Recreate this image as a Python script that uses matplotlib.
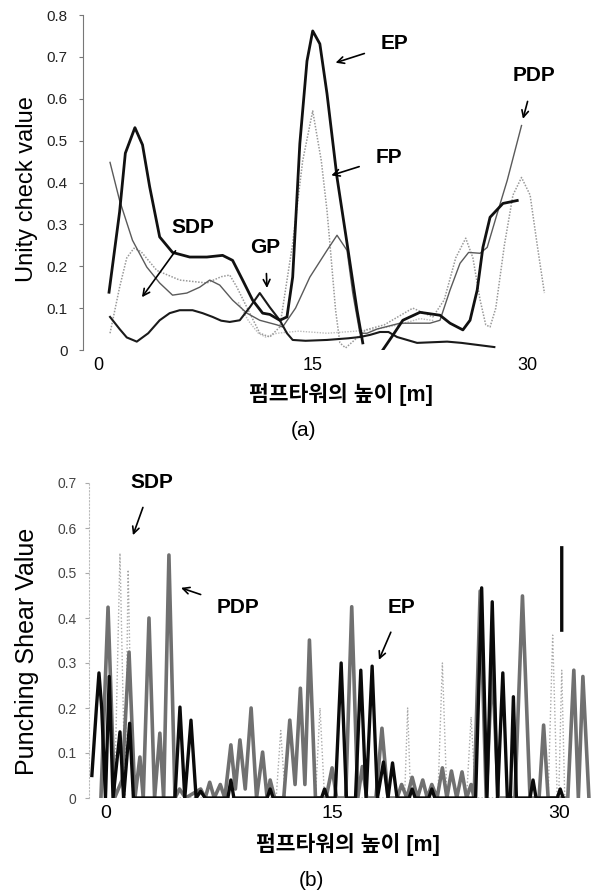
import numpy as np
import matplotlib
matplotlib.use('Agg')
from matplotlib import pyplot as plt

nan = np.nan

#region `data (a) unity check`
ep_x = [0.76, 1.5, 1.9, 2.57, 3.1, 3.6, 4.3, 5.2, 6.4, 7.6, 8.7, 9.4, 10.1, 10.8, 11.5, 12.0, 12.7, 13.2,
        13.6, 14.1, 14.6, 15.0, 15.5, 16.0, 16.7, 17.4, 18.1, 18.5,
        nan, 19.9, 20.6, 21.3, 22.5, 23.9, 24.6, 25.5, 26.0, 26.5, 26.9, 27.4, 28.3, 29.3]
ep_y = [0.138, 0.33, 0.47, 0.531, 0.49, 0.39, 0.27, 0.233, 0.222, 0.222, 0.226, 0.214, 0.167, 0.119, 0.088, 0.085, 0.071, 0.079,
        0.174, 0.493, 0.69, 0.762, 0.731, 0.612, 0.412, 0.255, 0.095, 0.017,
        nan, 0.0, 0.035, 0.071, 0.09, 0.083, 0.064, 0.048, 0.071, 0.143, 0.245, 0.317, 0.35, 0.357]

gp_x = [0.83, 1.5, 2.0, 2.7, 3.5, 4.3, 5.0, 5.7, 6.6, 7.3, 8.0, 8.6, 9.2, 9.9, 10.6, 11.3, 12.0, 12.7, 13.2,
        13.6, 14.5, 16.0, 17.5, 18.3, 19.0, 19.7, 20.3, 20.9, 22.3, 24.4, 25.4, 27.7]
gp_y = [0.079, 0.05, 0.03, 0.02, 0.04, 0.071, 0.088, 0.095, 0.095, 0.088, 0.079, 0.07, 0.067, 0.071, 0.102, 0.136, 0.102, 0.071, 0.04,
        0.024, 0.022, 0.024, 0.028, 0.031, 0.036, 0.043, 0.043, 0.031, 0.017, 0.02, 0.017, 0.007]

pdp_x = [0.83, 1.5, 2.4, 3.4, 4.3, 5.2, 6.2, 7.1, 7.8, 8.5, 9.4, 10.4, 11.3, 12.5, 12.9, 13.8, 14.8, 16.0, 16.7,
         17.4, 17.8, 18.3, 18.8, 19.5, 21.1, 23.2, 23.9, 24.6, 25.3, 25.9, 26.7, 27.2, 27.9, 28.6, 29.6]
pdp_y = [0.448, 0.357, 0.262, 0.198, 0.16, 0.131, 0.136, 0.15, 0.167, 0.155, 0.119, 0.088, 0.071, 0.06, 0.055, 0.1, 0.174, 0.238, 0.274,
         0.238, 0.136, 0.04, 0.04, 0.05, 0.064, 0.064, 0.071, 0.143, 0.207, 0.233, 0.231, 0.245, 0.326, 0.405, 0.536]

fp_x = [0.83, 1.5, 2.0, 2.5, 3.0, 4.1, 5.7, 7.6, 8.6, 9.2, 9.7, 10.6, 11.3, 12.0, 12.7, 13.6, 14.3, 15.0, 15.6,
        16.0, 16.2, 16.6, 16.9, 17.3, 17.8, 18.7, 20.0, 21.0, 22.0, 23.0, 23.4, 24.2, 25.0, 25.7, 26.2, 26.7,
        27.1, 27.4, 27.8, 28.4, 29.0, 29.6, 30.2, 30.7, 31.2]
fp_y = [0.04, 0.15, 0.22, 0.243, 0.235, 0.19, 0.167, 0.16, 0.175, 0.179, 0.15, 0.088, 0.04, 0.031, 0.055, 0.255, 0.452, 0.571, 0.452,
        0.333, 0.255, 0.095, 0.017, 0.005, 0.02, 0.048, 0.06, 0.08, 0.1, 0.085, 0.079, 0.12, 0.22, 0.267, 0.22, 0.12,
        0.06, 0.055, 0.1, 0.25, 0.37, 0.412, 0.37, 0.25, 0.136]

sdp_x = [9.8, 10.5, 11.2, 11.7, 12.5, 14.0, 16.0, 18.0, 19.5, 21.0, 22.5, 23.5]
sdp_y = [0.114, 0.07, 0.04, 0.031, 0.04, 0.045, 0.04, 0.045, 0.05, 0.06, 0.075, 0.07]
#endregion

#region `data (b) punching shear`
pdp_b_x = [-0.3, 0.17, 0.6, 1.1, 1.56, 1.95, 2.28, 2.5, 2.88, 3.25, 3.6, 3.85, 4.2, 4.6, 4.9, 5.3, 6.3, 6.6, 6.9, 7.2,
           7.6, 7.9, 8.3, 8.6, 8.9, 9.25, 9.64, 10.0, 10.4, 10.7, 10.9, 11.2, 11.8, 12.2, 12.55, 12.9, 13.2, 13.5,
           13.9, 14.6, 15.0, 15.3, 15.9, 16.3, 16.7, 17.0, 17.3, 17.9, 18.3, 18.7, 19.3, 19.6, 19.95, 20.3, 20.65,
           21.0, 21.3, 21.6, 21.95, 22.3, 22.6, 22.9, 23.25, 23.6, 23.9, 24.2, 24.4, 24.8, 25.2, 25.6, 26.0, 27.1,
           27.6, 28.1, 28.7, 29.0, 29.3, 30.6, 31.0, 31.3, 31.6, 32.0]
pdp_b_y = [0.0, 0.424, 0.0, 0.04, 0.324, 0.0, 0.091, 0.0, 0.40, 0.0, 0.144, 0.0, 0.54, 0.0, 0.02, 0.0, 0.02, 0.0, 0.035, 0.0,
           0.03, 0.0, 0.118, 0.02, 0.129, 0.02, 0.2, 0.0, 0.102, 0.0, 0.04, 0.0, 0.0, 0.173, 0.03, 0.244, 0.03, 0.351,
           0.0, 0.0, 0.067, 0.0, 0.0, 0.425, 0.0, 0.07, 0.0, 0.0, 0.155, 0.0, 0.0, 0.03, 0.0, 0.046, 0.0,
           0.04, 0.0, 0.03, 0.0, 0.067, 0.0, 0.06, 0.0, 0.058, 0.0, 0.03, 0.0, 0.46, 0.0, 0.30, 0.0, 0.0,
           0.449, 0.0, 0.0, 0.162, 0.0, 0.0, 0.284, 0.0, 0.27, 0.0]

ep_b_x = [-0.9, -0.6, -0.43, -0.25, 0.0, 0.25, 0.5, 0.96, 1.2, 1.6, 1.85, 4.6, 4.93, 5.25, 5.66, 6.0, 6.3, 6.6,
          8.1, 8.3, 8.5, 10.7, 10.9, 11.1, 14.3, 14.5, 14.7, 15.2, 15.6, 15.95, 16.55, 16.9, 17.25, 17.65, 18.0,
          18.4, 18.7, 19.0, 19.3, 20.1, 20.3, 20.5, 21.4, 21.6, 21.8, 24.5, 24.9, 25.25, 25.6, 25.95, 26.3, 26.6,
          26.8, 27.0, 27.2, 28.1, 28.3, 28.5, 29.9, 30.1, 30.3, nan, 30.2, 30.2]
ep_b_y = [0.05, 0.2, 0.278, 0.2, 0.0, 0.27, 0.0, 0.147, 0.0, 0.166, 0.0, 0.0, 0.202, 0.0, 0.173, 0.0, 0.015, 0.0,
          0.0, 0.04, 0.0, 0.0, 0.02, 0.0, 0.0, 0.02, 0.0, 0.0, 0.30, 0.0, 0.0, 0.284, 0.0, 0.293, 0.0,
          0.08, 0.0, 0.078, 0.0, 0.0, 0.02, 0.0, 0.0, 0.02, 0.0, 0.0, 0.467, 0.0, 0.436, 0.0, 0.278, 0.0,
          0.0, 0.225, 0.0, 0.0, 0.04, 0.0, 0.0, 0.02, 0.0, nan, 0.373, 0.556]

sdp_b_x = [0.6, 0.96, 1.3, 1.5, 1.8, 11.3, 11.6, 11.9, 13.9, 14.2, 14.5, 19.8, 20.0, 20.2, 22.0, 22.3, 22.6,
           23.9, 24.2, 24.5, 29.3, 29.6, 29.9, 30.0, 30.2, 30.4]
sdp_b_y = [0.0, 0.544, 0.0, 0.507, 0.0, 0.0, 0.15, 0.0, 0.0, 0.2, 0.0, 0.0, 0.2, 0.0, 0.0, 0.3, 0.0,
           0.0, 0.18, 0.0, 0.0, 0.362, 0.0, 0.0, 0.284, 0.0]
#endregion

xticks = [0, 15, 30]
xlabel_text = '펌프타워의 높이 [m]'

plt.rcParams['font.family'] = ['Liberation Sans', 'Noto Sans CJK KR', 'DejaVu Sans']

fig = plt.figure(figsize=(6, 8.9), dpi=100)

def px(x, y):
    # pixel position -> figure fraction
    return x / 600, 1 - y / 890

def note(ax, text, tip, where):
    ax.annotate(text, xy=tip, xytext=where, fontsize=15, fontweight='bold',
                ha='center', va='center',
                arrowprops=dict(arrowstyle='->', color='black', lw=1.2,
                                shrinkA=10, shrinkB=0, mutation_scale=12))

#region `panel (a)`
ax1 = fig.add_axes([83 / 600, 1 - 350 / 890, 480 / 600, 335 / 890])
ax1.plot(sdp_x, sdp_y, color='#bbbbbb', lw=1.0, ls=(0, (1, 1)))
ax1.plot(fp_x, fp_y, color='#999999', lw=1.1, ls=(0, (1, 1)))
ax1.plot(pdp_x, pdp_y, color='#5a5a5a', lw=1.0, solid_joinstyle='round')
ax1.plot(gp_x, gp_y, color='#1a1a1a', lw=1.5, solid_joinstyle='round')
ax1.plot(ep_x, ep_y, color='#111111', lw=2.0, solid_joinstyle='round')
ax1.set_xlim(-1.06, 32.5)
ax1.set_ylim(0, 0.8)
ax1.set_yticks(np.arange(0, 0.81, 0.1))
ax1.set_yticklabels(['0', '0.1', '0.2', '0.3', '0.4', '0.5', '0.6', '0.7', '0.8'])
ax1.set_xticks(xticks)
for s in ['top', 'right', 'bottom']:
    ax1.spines[s].set_visible(False)
ax1.spines['left'].set_color('#777777')
ax1.tick_params(axis='y', length=3, color='#777777', pad=8, labelsize=11, labelcolor='#222222')
ax1.tick_params(axis='x', length=0, pad=5, labelsize=13)

note(ax1, 'EP', (16.6, 0.686), (20.7, 0.731))
note(ax1, 'PDP', (29.7, 0.552), (30.5, 0.655))
note(ax1, 'FP', (16.3, 0.417), (20.3, 0.46))
note(ax1, 'SDP', (3.06, 0.126), (6.6, 0.293))
note(ax1, 'GP', (11.8, 0.148), (11.7, 0.245))

fig.text(*px(27, 189), 'Unity check value', rotation=90, ha='center', va='center', fontsize=17)
fig.text(*px(341, 395), xlabel_text, ha='center', va='center', fontsize=15.5, fontweight='bold')
fig.text(*px(303, 430), '(a)', ha='center', va='center', fontsize=15)
#endregion

#region `panel (b)`
ax2 = fig.add_axes([89 / 600, 1 - 798 / 890, 509 / 600, 315 / 890])
ax2.plot(sdp_b_x, sdp_b_y, color='#aaaaaa', lw=1.0, ls=(0, (1, 1.5)))
ax2.plot(pdp_b_x, pdp_b_y, color='#707070', lw=2.6, solid_joinstyle='round')
ax2.plot(ep_b_x, ep_b_y, color='#0a0a0a', lw=2.4, solid_joinstyle='round')
ax2.set_xlim(-1.09, 32.6)
ax2.set_ylim(0, 0.7)
ax2.set_yticks(np.arange(0, 0.71, 0.1))
ax2.set_yticklabels(['0', '0.1', '0.2', '0.3', '0.4', '0.5', '0.6', '0.7'])
ax2.set_xticks(xticks)
for s in ['top', 'right', 'bottom']:
    ax2.spines[s].set_visible(False)
ax2.spines['left'].set_color('#bbbbbb')
ax2.spines['left'].set_linestyle((0, (1, 2)))
ax2.tick_params(axis='y', length=3, color='#aaaaaa', pad=6, labelsize=10, labelcolor='#444444')
ax2.tick_params(axis='x', length=0, pad=5, labelsize=14)

note(ax2, 'SDP', (1.82, 0.584), (3.08, 0.702))
note(ax2, 'PDP', (5.0, 0.467), (8.77, 0.424))
note(ax2, 'EP', (18.1, 0.307), (19.6, 0.424))

fig.text(*px(27, 651), 'Punching Shear Value', rotation=90, ha='center', va='center', fontsize=18)
fig.text(*px(348, 845), xlabel_text, ha='center', va='center', fontsize=15.5, fontweight='bold')
fig.text(*px(311, 880), '(b)', ha='center', va='center', fontsize=15)
#endregion

fig.savefig('out.png', dpi=100)
